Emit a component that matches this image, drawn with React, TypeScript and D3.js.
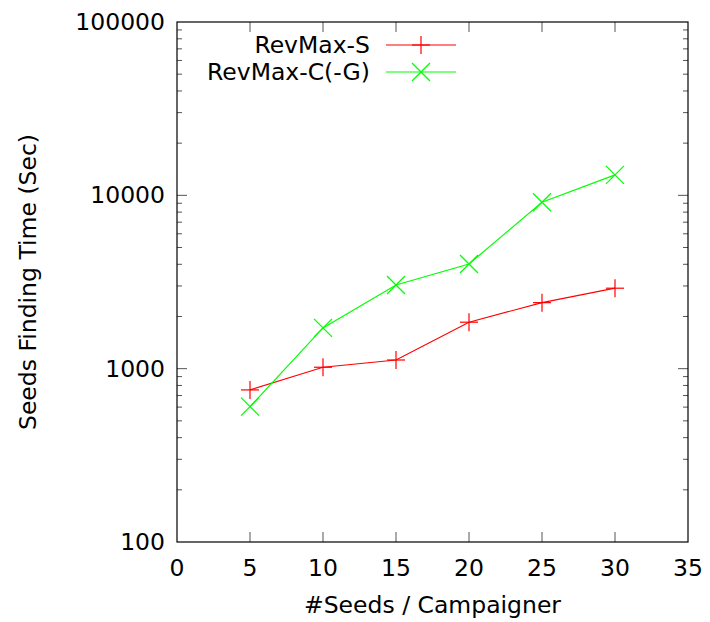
import React, { useEffect, useRef } from "react";
import * as d3 from "d3";

const seeds = [5, 10, 15, 20, 25, 30];
const revMaxS = [754, 1019, 1122, 1854, 2404, 2912];
const revMaxC = [604, 1718, 3040, 4018, 9120, 13120];
const xTicks = [0, 5, 10, 15, 20, 25, 30, 35];
const yTicks = [100, 1000, 10000, 100000];
const seriesNames = ["RevMax-S", "RevMax-C(-G)"];
const seriesColors = ["#ff0000", "#00ff00"];

const W = 710, H = 622;
const margin = { top: 22, right: 22, bottom: 80, left: 177 };

const App = () => {
  const ref = useRef<SVGSVGElement>(null);

  useEffect(() => {
    const svg = d3.select(ref.current);
    svg.selectAll("*").remove();
    const font = "'DejaVu Sans', sans-serif";
    const fs = 23.5;

    const x = d3.scaleLinear().domain([0, 35]).range([margin.left, W - margin.right]);
    const y = d3.scaleLog().domain([100, 100000]).range([H - margin.bottom, margin.top]);
    const x0 = x(0), x1 = x(35), y0 = y(100), y1 = y(100000);

    const g = svg.append("g");

    // ticks (inside, both sides)
    xTicks.forEach(t => {
      if (t === 0 || t === 35) return;
      g.append("line").attr("x1", x(t)).attr("x2", x(t)).attr("y1", y0).attr("y2", y0 - 10)
        .attr("stroke", "#555").attr("stroke-width", 1);
      g.append("line").attr("x1", x(t)).attr("x2", x(t)).attr("y1", y1).attr("y2", y1 + 10)
        .attr("stroke", "#555").attr("stroke-width", 1);
    });
    for (let d = 100; d < 100000; d *= 10) {
      for (let m = 1; m < 10; m++) {
        const v = d * m;
        if (v === 100) continue;
        const len = m === 1 ? 10 : 5;
        g.append("line").attr("x1", x0).attr("x2", x0 + len).attr("y1", y(v)).attr("y2", y(v))
          .attr("stroke", "#555").attr("stroke-width", 1);
        g.append("line").attr("x1", x1).attr("x2", x1 - len).attr("y1", y(v)).attr("y2", y(v))
          .attr("stroke", "#555").attr("stroke-width", 1);
      }
    }

    // frame
    g.append("rect").attr("x", x0).attr("y", y1).attr("width", x1 - x0).attr("height", y0 - y1)
      .attr("fill", "none").attr("stroke", "#000").attr("stroke-width", 1.2);

    // tick labels
    g.selectAll(".xl").data(xTicks).join("text")
      .attr("x", d => x(d)).attr("y", y0 + 34)
      .attr("text-anchor", "middle").attr("font-family", font).attr("font-size", fs)
      .text(d => d);
    g.selectAll(".yl").data(yTicks).join("text")
      .attr("x", x0 - 12).attr("y", d => y(d) + 8)
      .attr("text-anchor", "end").attr("font-family", font).attr("font-size", fs)
      .text(d => d);

    // axis titles
    g.append("text").attr("x", (x0 + x1) / 2).attr("y", 613)
      .attr("text-anchor", "middle").attr("font-family", font).attr("font-size", fs)
      .text("#Seeds / Campaigner");
    g.append("text").attr("transform", `translate(36, ${(y0 + y1) / 2}) rotate(-90)`)
      .attr("text-anchor", "middle").attr("font-family", font).attr("font-size", fs)
      .text("Seeds Finding Time (Sec)");

    const line = d3.line<number>().x((d, i) => x(seeds[i])).y(d => y(d));
    const plus = (sel: any, cx: number, cy: number, c: string) => {
      sel.append("line").attr("x1", cx - 9).attr("x2", cx + 9).attr("y1", cy).attr("y2", cy)
        .attr("stroke", c).attr("stroke-width", 1.2);
      sel.append("line").attr("x1", cx).attr("x2", cx).attr("y1", cy - 9).attr("y2", cy + 9)
        .attr("stroke", c).attr("stroke-width", 1.2);
    };
    const cross = (sel: any, cx: number, cy: number, c: string) => {
      sel.append("line").attr("x1", cx - 9).attr("x2", cx + 9).attr("y1", cy - 9).attr("y2", cy + 9)
        .attr("stroke", c).attr("stroke-width", 1.2);
      sel.append("line").attr("x1", cx - 9).attr("x2", cx + 9).attr("y1", cy + 9).attr("y2", cy - 9)
        .attr("stroke", c).attr("stroke-width", 1.2);
    };

    [revMaxS, revMaxC].forEach((data, k) => {
      const c = seriesColors[k];
      g.append("path").attr("d", line(data)).attr("fill", "none").attr("stroke", c).attr("stroke-width", 1.2);
      data.forEach((v, i) => (k === 0 ? plus : cross)(g, x(seeds[i]), y(v), c));
    });

    // legend
    const legY = [45, 72];
    seriesNames.forEach((name, k) => {
      const c = seriesColors[k];
      g.append("text").attr("x", 370).attr("y", legY[k] + 8)
        .attr("text-anchor", "end").attr("font-family", font).attr("font-size", fs)
        .text(name);
      g.append("line").attr("x1", 386).attr("x2", 456).attr("y1", legY[k]).attr("y2", legY[k])
        .attr("stroke", c).attr("stroke-width", 1.2);
      (k === 0 ? plus : cross)(g, 421, legY[k], c);
    });
  }, []);

  return <svg ref={ref} width={W} height={H} style={{ display: "block", position: "absolute", left: 0, top: 0 }} />;
};

export default App;
